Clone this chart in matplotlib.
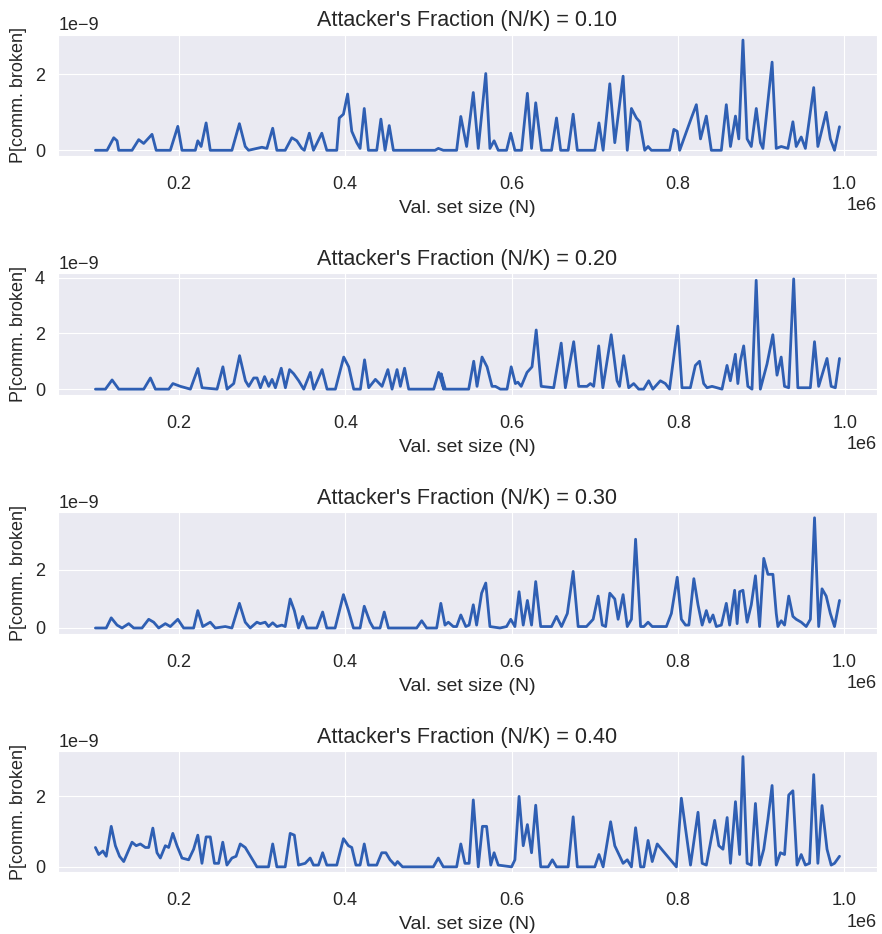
import matplotlib.pyplot as plt
import seaborn as sns
import numpy as np

# polyline vertices: x in thousands of validators, y in units of 1e-9
fractions = [0.10, 0.20, 0.30, 0.40]

x_010 = [100, 114, 122, 126, 128, 144, 152, 158, 168, 173, 190, 199, 204, 220, 223, 227, 233, 238,
         264, 273, 280, 284, 300, 306, 313, 318, 328, 336, 342, 348, 351, 357, 362, 372, 378, 390,
         393, 398, 403, 408, 414, 418, 423, 428, 438, 443, 448, 453, 458, 508, 512, 518, 534, 539,
         546, 554, 560, 569, 574, 579, 584, 594, 599, 604, 612, 619, 624, 629, 636, 648, 654, 659,
         668, 674, 679, 700, 705, 710, 718, 724, 734, 739, 744, 750, 754, 760, 764, 768, 790, 795,
         799, 802, 816, 822, 827, 834, 840, 852, 858, 863, 869, 873, 878, 883, 888, 894, 899, 902,
         913, 918, 924, 932, 938, 942, 948, 953, 963, 968, 978, 983, 988, 994]
y_010 = [0, 0, 0.33, 0.25, 0, 0, 0.28, 0.18, 0.42, 0, 0, 0.63, 0, 0, 0.25, 0.1, 0.72, 0,
         0, 0.7, 0.1, 0, 0.08, 0.05, 0.58, 0, 0, 0.33, 0.25, 0.05, 0, 0.45, 0, 0.45, 0, 0,
         0.85, 0.95, 1.48, 0.5, 0.2, 0.05, 1.1, 0, 0, 0.82, 0, 0.65, 0, 0, 0.05, 0, 0, 0.89,
         0.1, 1.52, 0.05, 2.02, 0.05, 0.25, 0, 0, 0.45, 0, 0, 1.5, 0.05, 1.25, 0, 0, 0.85, 0,
         0, 0.95, 0, 0, 0.72, 0, 1.75, 0.2, 1.95, 0, 1.1, 0.85, 0.75, 0, 0.1, 0, 0, 0.55,
         0.5, 0, 0.85, 1.2, 0.3, 0.9, 0, 0, 1.2, 0.1, 0.9, 0.3, 2.9, 0.3, 0.1, 1.1, 0.2, 0.05,
         2.32, 0.05, 0.1, 0.05, 0.75, 0.1, 0.35, 0.05, 1.65, 0.1, 1.0, 0.3, 0, 0.62]

x_020 = [100, 112, 120, 128, 158, 166, 172, 188, 193, 202, 214, 223, 228, 246, 253, 258, 266, 273,
         280, 284, 290, 294, 298, 303, 308, 312, 316, 323, 328, 333, 338, 344, 350, 358, 362, 372,
         378, 388, 398, 404, 410, 418, 423, 428, 436, 444, 451, 456, 462, 466, 471, 476, 506, 512,
         518, 515, 520, 548, 554, 558, 564, 570, 576, 580, 586, 594, 599, 604, 607, 611, 618,
         624, 629, 635, 650, 659, 664, 674, 680, 690, 694, 698, 704, 709, 719, 726, 729, 734, 740,
         746, 752, 758, 764, 769, 778, 784, 789, 799, 804, 814, 820, 825, 830, 834, 840, 852, 858,
         862, 868, 871, 874, 878, 883, 888, 893, 898, 906, 913, 918, 923, 927, 932, 938, 943, 958,
         963, 968, 978, 983, 988, 993]
y_020 = [0, 0, 0.33, 0, 0, 0.4, 0, 0, 0.2, 0.1, 0, 0.74, 0.05, 0, 0.8, 0, 0.2, 1.2,
         0.3, 0.1, 0.4, 0.4, 0.05, 0.45, 0.1, 0.35, 0.05, 0.75, 0.05, 0.7, 0.55, 0.3, 0, 0.6, 0, 0.7,
         0, 0, 1.15, 0.8, 0, 0, 1.05, 0.05, 0.35, 0.1, 0.7, 0, 0.7, 0.1, 0.75, 0, 0, 0.6,
         0, 0.55, 0, 0, 1.0, 0.1, 1.15, 0.8, 0.1, 0.1, 0, 0, 0.8, 0.2, 0.25, 0.1, 0.6,
         0.8, 2.12, 0.1, 0.05, 1.65, 0.05, 1.7, 0.1, 0.1, 0.2, 0.1, 1.55, 0.05, 1.95, 0.3, 0.1, 1.2, 0.05,
         0.2, 0, 0, 0.3, 0, 0.3, 0.2, 0, 2.26, 0.05, 0.05, 0.85, 1.0, 0.2, 0.05, 0.1, 0, 0.85,
         0.3, 1.25, 0.2, 1.0, 1.55, 0.1, 0, 3.9, 0, 0.9, 1.95, 0.5, 1.15, 0.1, 0.05, 3.95, 0.05, 0.05,
         1.7, 0.1, 1.1, 0.1, 0.05, 1.1]

x_030 = [100, 113, 119, 126, 132, 140, 146, 156, 164, 170, 176, 184, 190, 199, 206, 218, 223, 229,
         238, 244, 256, 264, 273, 280, 286, 294, 298, 304, 308, 313, 318, 324, 328, 334, 339, 344,
         349, 354, 366, 373, 378, 388, 398, 404, 410, 418, 423, 430, 434, 442, 447, 452, 486, 492,
         498, 510, 515, 520, 524, 530, 534, 539, 545, 549, 554, 558, 564, 569, 574, 586, 594, 599,
         604, 609, 614, 619, 624, 629, 635, 648, 654, 660, 667, 674, 680, 690, 698, 704, 709, 713,
         718, 724, 728, 734, 739, 744, 749, 755, 759, 764, 769, 786, 792, 799, 804, 809, 813, 819,
         824, 829, 834, 838, 842, 846, 852, 858, 862, 868, 871, 874, 878, 883, 888, 893, 898, 903,
         908, 914, 918, 920, 924, 928, 933, 938, 942, 948, 954, 959, 964, 969, 973, 978, 983, 988,
         994]
y_030 = [0, 0, 0.35, 0.1, 0, 0.15, 0, 0, 0.3, 0.2, 0, 0.15, 0.05, 0.3, 0, 0, 0.6, 0.05,
         0.2, 0, 0.05, 0, 0.85, 0.2, 0, 0.2, 0.15, 0.2, 0.05, 0.18, 0.05, 0.1, 0.05, 1.0, 0.6, 0,
         0.4, 0, 0, 0.55, 0, 0, 1.15, 0.6, 0, 0, 0.75, 0.2, 0, 0, 0.55, 0, 0, 0.25,
         0, 0, 0.85, 0.1, 0.2, 0.05, 0.05, 0.45, 0.05, 0.1, 0.8, 0.1, 1.2, 1.55, 0.05, 0, 0.05, 0.3,
         0.05, 1.25, 0.1, 0.95, 0.1, 1.6, 0.05, 0.05, 0.4, 0.05, 0.5, 1.95, 0.05, 0.05, 0.3, 1.1, 0.1, 0.05,
         1.2, 1.0, 0.3, 1.15, 0.05, 0.3, 3.06, 0.05, 0.05, 0.2, 0.05, 0.05, 0.5, 1.75, 0.3, 0.1, 0.1, 1.7,
         0.8, 0.1, 0.6, 0.2, 0.45, 0.05, 0.1, 0.85, 0.1, 1.3, 0.15, 1.25, 1.3, 0.2, 0.8, 1.8, 0.05, 2.4,
         1.85, 1.85, 0.5, 0.05, 0.25, 0.1, 1.1, 0.4, 0.3, 0.2, 0.05, 0.3, 3.8, 0.05, 1.35, 1.1, 0.5, 0.05,
         0.95]

x_040 = [100, 104, 109, 113, 119, 124, 129, 134, 144, 149, 154, 160, 164, 169, 174, 178, 184, 188,
         193, 198, 204, 212, 218, 223, 228, 233, 238, 243, 248, 253, 258, 264, 269, 274, 280, 294,
         308, 313, 318, 328, 334, 339, 344, 352, 358, 362, 368, 373, 378, 390, 398, 404, 408, 413,
         418, 423, 428, 438, 444, 449, 454, 460, 463, 469, 506, 512, 518, 534, 539, 544, 549, 554,
         560, 565, 570, 575, 579, 584, 600, 604, 609, 614, 619, 624, 629, 635, 644, 649, 654, 668,
         674, 679, 700, 705, 710, 719, 724, 729, 734, 739, 744, 749, 755, 759, 764, 769, 775, 782,
         798, 804, 815, 824, 829, 834, 844, 849, 854, 859, 863, 869, 874, 878, 883, 888, 893, 898,
         903, 908, 913, 918, 923, 928, 933, 938, 943, 948, 953, 958, 963, 968, 973, 979, 984, 988,
         994]
y_040 = [0.55, 0.35, 0.45, 0.3, 1.15, 0.6, 0.3, 0.15, 0.7, 0.6, 0.65, 0.55, 0.55, 1.1, 0.4, 0.25, 0.6, 0.55,
         0.95, 0.6, 0.25, 0.2, 0.5, 0.9, 0.1, 0.85, 0.85, 0.1, 0.1, 0.7, 0.05, 0.25, 0.3, 0.65, 0.55, 0,
         0, 0.65, 0, 0, 0.95, 0.9, 0.05, 0.1, 0.25, 0.05, 0.05, 0.4, 0.05, 0.05, 0.8, 0.6, 0.55, 0.05,
         0.05, 0.65, 0.05, 0.05, 0.4, 0.4, 0.2, 0.05, 0.15, 0, 0, 0.25, 0, 0, 0.65, 0.1, 0.1, 1.9,
         0, 1.15, 1.15, 0.05, 0.4, 0.05, 0, 0.2, 2.0, 0.6, 1.2, 0.4, 1.75, 0, 0, 0.2, 0, 0,
         1.42, 0, 0, 0.35, 0, 1.28, 0.6, 0.35, 0.1, 0.2, 0, 1.11, 0, 0, 0.75, 0.15, 0.65, 0.45,
         0, 1.95, 0.05, 1.55, 0.1, 0.05, 1.32, 0.6, 0.5, 1.4, 0.1, 1.85, 0.35, 3.13, 0.1, 0.05, 1.8, 0.05,
         0.5, 1.35, 2.31, 0.05, 0.4, 0.35, 2.04, 2.16, 0.05, 0.35, 0.05, 0.1, 2.62, 0.1, 1.74, 0.5, 0.05, 0.1,
         0.3]

series = [(x_010, y_010), (x_020, y_020), (x_030, y_030), (x_040, y_040)]

sns.set_style("darkgrid")
plt.rcParams['font.family'] = ['Liberation Sans', 'DejaVu Sans']

fig, axes = plt.subplots(4, 1, figsize=(8.82, 9.34), dpi=100)
fig.subplots_adjust(left=0.066, right=0.994, top=0.963, bottom=0.066, hspace=0.97)

for ax, frac, (xs, ys) in zip(axes, fractions, series):
    ax.plot(np.array(xs) * 1e3, np.array(ys) * 1e-9, color='#2f5fb3', lw=2.0)
    ax.set_title(f"Attacker's Fraction (N/K) = {frac:.2f}", fontsize=15.5, pad=6)
    ax.set_xlabel("Val. set size (N)", fontsize=14, labelpad=5)
    ax.set_ylabel("P[comm. broken]", fontsize=13, labelpad=6)
    ax.tick_params(axis='x', labelsize=13, pad=11)
    ax.tick_params(axis='y', labelsize=13, pad=6)
    ax.xaxis.get_offset_text().set_fontsize(13)
    ax.yaxis.get_offset_text().set_fontsize(13)

fig.savefig("out.png", dpi=100)
